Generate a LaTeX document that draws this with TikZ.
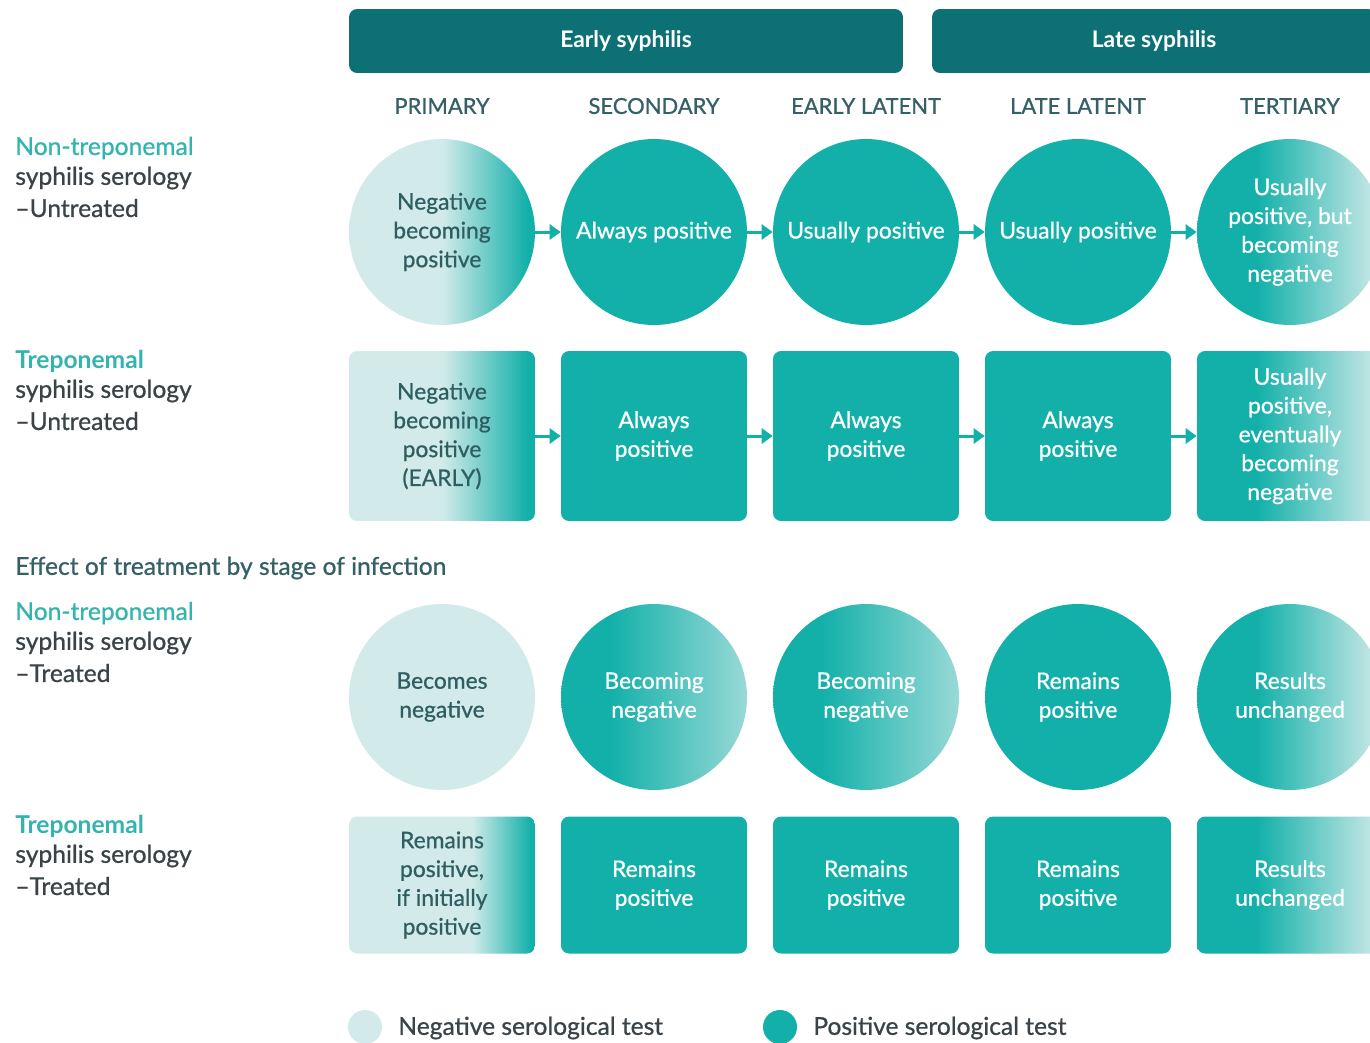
\documentclass[tikz,border=0pt]{standalone}
\usepackage{fontspec}
\setmainfont{Lato}
\newfontfamily\medfont{Lato}[FakeBold=0.8]
\usetikzlibrary{arrows.meta}
\definecolor{bannerc}{RGB}{12,112,117}
\definecolor{tealc}{RGB}{18,176,169}
\definecolor{lightc}{RGB}{210,235,234}
\definecolor{stagec}{RGB}{52,96,102}
\definecolor{darktxt}{RGB}{47,94,98}
\definecolor{graytxt}{RGB}{58,68,72}
\definecolor{labteal}{RGB}{52,180,174}
\colorlet{lightmix}{lightc!70!tealc}
\pgfdeclarehorizontalshading{negpos}{100bp}{color(0bp)=(lightc); color(50bp)=(lightc); color(73bp)=(tealc); color(100bp)=(tealc)}
\pgfdeclarehorizontalshading{negposlate}{100bp}{color(0bp)=(lightc); color(58bp)=(lightc); color(74bp)=(tealc); color(100bp)=(tealc)}
\pgfdeclarehorizontalshading{posneg}{100bp}{color(0bp)=(tealc); color(38bp)=(tealc); color(75bp)=(lightmix); color(100bp)=(lightmix)}
\pgfdeclarehorizontalshading{posnegter}{100bp}{color(0bp)=(tealc); color(41bp)=(tealc); color(75bp)=(lightc); color(100bp)=(lightc)}
\newcommand\myNodeFont{\medfont\fontsize{13}{16.4}\selectfont}
\newcommand\myLabFont{\medfont\fontsize{14}{17}\selectfont}
\newcommand\myStageFont{\medfont\fontsize{12.5}{15}\selectfont}
\newcommand\myBannerFont{\rmfamily\bfseries\fontsize{13}{15}\selectfont}
\tikzset{
  pcirc/.style={circle, minimum size=3.72cm, inner sep=0pt, align=center, font=\myNodeFont},
  prect/.style={rectangle, rounded corners=0.16cm, minimum width=3.72cm, inner sep=0pt, align=center, font=\myNodeFont},
  tall/.style={minimum height=3.4cm},
  short/.style={minimum height=2.74cm},
  posfill/.style={fill=tealc, text=white},
  negfill/.style={fill=lightc, text=darktxt},
  banner/.style={rectangle, rounded corners=0.16cm, fill=bannerc, text=white, font=\myBannerFont, minimum height=1.28cm, inner sep=0pt},
  stagelab/.style={text=stagec, font=\myStageFont, inner sep=0pt},
  labteal/.style={anchor=west, inner sep=0pt, text=labteal, font=\myLabFont},
  labtealb/.style={anchor=west, inner sep=0pt, text=labteal, font=\rmfamily\bfseries\fontsize{14}{17}\selectfont},
  labgray/.style={anchor=west, inner sep=0pt, text=graytxt, font=\myLabFont},
  conn/.style={draw=tealc, line width=0.06cm, -{Triangle[length=0.22cm,width=0.3cm]}},
}
\begin{document}
\begin{tikzpicture}[x=0.02cm,y=-0.02cm]
\path[use as bounding box, fill=white] (0,0) rectangle (1370,1042);
\clip (0,0) rectangle (1370,1042);
% banners
\node[banner, minimum width=11.08cm] (early) at (626,41) {Early syphilis};
\node[banner, minimum width=8.88cm] (late) at (1154,41) {Late syphilis};
% stage labels
\node[stagelab] (s1) at (442,106) {PRIMARY};
\node[stagelab] (s2) at (654,106) {SECONDARY};
\node[stagelab] (s3) at (866,106) {EARLY LATENT};
\node[stagelab] (s4) at (1078,106) {LATE LATENT};
\node[stagelab] (s5) at (1290,106) {TERTIARY};
% left labels
\node[labteal] (l1a) at (15,148) {Non-treponemal};
\node[labgray] (l1b) at (15,178) {syphilis serology};
\node[labgray] (l1c) at (15,208) {–Untreated};
\node[labtealb] (l2a) at (15,361) {Treponemal};
\node[labgray] (l2b) at (15,391) {syphilis serology};
\node[labgray] (l2c) at (15,421) {–Untreated};
\node[anchor=west, inner sep=0pt, text=stagec, font=\myLabFont] (eff) at (15,568) {Effect of treatment by stage of infection};
\node[labteal] (l3a) at (15,613) {Non-treponemal};
\node[labgray] (l3b) at (15,643) {syphilis serology};
\node[labgray] (l3c) at (15,673) {–Treated};
\node[labtealb] (l4a) at (15,826) {Treponemal};
\node[labgray] (l4b) at (15,856) {syphilis serology};
\node[labgray] (l4c) at (15,886) {–Treated};
% row 1
\node[pcirc, shading=negpos, text=darktxt] (a1) at (442,232) {Negative\\becoming\\positive};
\node[pcirc, posfill] (a2) at (654,232) {Always positive};
\node[pcirc, posfill] (a3) at (866,232) {Usually positive};
\node[pcirc, posfill] (a4) at (1078,232) {Usually positive};
\node[pcirc, shading=posnegter, text=white] (a5) at (1290,232) {Usually\\positive, but\\becoming\\negative};
\draw[conn] (a1) -- (a2);
\draw[conn] (a2) -- (a3);
\draw[conn] (a3) -- (a4);
\draw[conn] (a4) -- (a5);
% row 2
\node[prect, tall, shading=negpos, text=darktxt] (b1) at (442,436) {Negative\\becoming\\positive\\(EARLY)};
\node[prect, tall, posfill] (b2) at (654,436) {Always\\positive};
\node[prect, tall, posfill] (b3) at (866,436) {Always\\positive};
\node[prect, tall, posfill] (b4) at (1078,436) {Always\\positive};
\node[prect, tall, shading=posnegter, text=white] (b5) at (1290,436) {Usually\\positive,\\eventually\\becoming\\negative};
\draw[conn] (b1) -- (b2);
\draw[conn] (b2) -- (b3);
\draw[conn] (b3) -- (b4);
\draw[conn] (b4) -- (b5);
% row 3
\node[pcirc, negfill] (c1) at (442,697) {Becomes\\negative};
\node[pcirc, shading=posneg, text=white] (c2) at (654,697) {Becoming\\negative};
\node[pcirc, shading=posneg, text=white] (c3) at (866,697) {Becoming\\negative};
\node[pcirc, posfill] (c4) at (1078,697) {Remains\\positive};
\node[pcirc, shading=posnegter, text=white] (c5) at (1290,697) {Results\\unchanged};
% row 4
\node[prect, short, shading=negposlate, text=darktxt] (d1) at (442,885) {Remains\\positive,\\if initially\\positive};
\node[prect, short, posfill] (d2) at (654,885) {Remains\\positive};
\node[prect, short, posfill] (d3) at (866,885) {Remains\\positive};
\node[prect, short, posfill] (d4) at (1078,885) {Remains\\positive};
\node[prect, short, shading=posnegter, text=white] (d5) at (1290,885) {Results\\unchanged};
% legend
\node[circle, fill=lightc, minimum size=0.68cm, inner sep=0pt] (legneg) at (365,1027) {};
\node[anchor=west, inner sep=0pt, text=graytxt, font=\myLabFont] (legnegt) at (398,1028) {Negative serological test};
\node[circle, fill=tealc, minimum size=0.68cm, inner sep=0pt] (legpos) at (780,1027) {};
\node[anchor=west, inner sep=0pt, text=graytxt, font=\myLabFont] (legpost) at (813,1028) {Positive serological test};
\end{tikzpicture}
\end{document}
